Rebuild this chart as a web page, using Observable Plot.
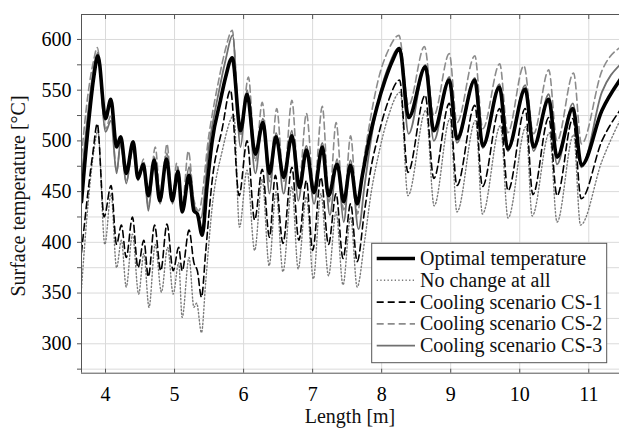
<!DOCTYPE html>
<html><head><meta charset="utf-8">
<script src="https://cdn.jsdelivr.net/npm/d3@7"></script>
<script src="https://cdn.jsdelivr.net/npm/@observablehq/plot@0.6"></script>
<style>body{margin:0;background:#fff} svg{display:block} #chart svg text{font-family:"Liberation Serif" !important;}</style>
</head><body><div id="chart" style="position:relative"></div>
<script>
// ---- data ----
const optX = [3.652,3.75,3.83,3.89,4.00,4.077,4.16,4.22,4.30,4.40,4.47,4.546,4.62,4.705,4.786,4.883,4.966,5.05,5.11,5.21,5.28,5.33,5.40,5.47,5.545,5.665,5.74,5.835,5.955,6.05,6.17,6.28,6.375,6.47,6.58,6.70,6.81,6.91,7.02,7.14,7.23,7.355,7.45,7.548,7.645,7.72,7.82,7.93,8.05,8.15,8.258,8.39,8.634,8.755,8.98,9.09,9.35,9.464,9.706,9.826,10.08,10.20,10.42,10.54,10.77,10.894,11.19,11.45];
const optY = [440,515,563,584,522,541,494,504,468,499,463,477,446,481,441,482,441,470,430,466,431,428,407,455,500,540,563,582,510,546,487,518,468,504,464,505,454,491,449,494,446,477,440,476,438,466,502,533,560,578,591,523,573,510,560,502,560,495,553,492,551,494,541,484,532,476,530,560];

const noX = [3.652,3.75,3.83,3.89,3.99,4.08,4.16,4.23,4.30,4.39,4.48,4.555,4.63,4.72,4.81,4.90,4.98,5.06,5.11,5.21,5.28,5.32,5.39,5.45,5.545,5.69,5.86,5.94,6.05,6.16,6.27,6.37,6.47,6.57,6.70,6.79,6.91,7.01,7.12,7.23,7.34,7.44,7.55,7.645,7.75,7.85,7.95,8.10,8.27,8.38,8.64,8.76,8.99,9.09,9.36,9.46,9.72,9.83,10.09,10.18,10.43,10.54,10.78,10.88,11.19,11.45];
const noY = [355,440,490,510,398,448,375,402,356,408,349,389,336,398,351,395,349,380,326,385,336,340,311,360,435,490,525,415,471,392,462,377,450,371,455,374,445,364,448,367,430,358,425,356,400,450,485,525,548,446,530,436,522,430,520,428,515,424,514,426,508,420,506,417,480,520];

const cs1X = [3.652,3.75,3.82,3.88,3.98,4.08,4.16,4.23,4.30,4.39,4.47,4.555,4.62,4.71,4.80,4.89,4.98,5.06,5.11,5.21,5.28,5.33,5.39,5.45,5.545,5.69,5.81,5.935,6.05,6.16,6.27,6.375,6.46,6.57,6.70,6.80,6.91,7.00,7.12,7.23,7.34,7.44,7.55,7.645,7.75,7.85,7.95,8.10,8.26,8.38,8.63,8.755,8.98,9.09,9.35,9.46,9.71,9.83,10.08,10.19,10.42,10.54,10.77,10.89,11.19,11.45];
const cs1Y = [390,452,490,517,425,456,398,417,385,425,375,402,366,417,372,418,372,395,372,412,380,372,346,390,461,512,550,446,500,422,472,405,466,399,474,402,461,392,464,398,448,384,438,381,430,475,505,540,560,469,545,463,537,456,535,455,532,451,532,447,523,446,522,443,500,530];

const cs2X = [3.652,3.75,3.83,3.88,4.00,4.08,4.16,4.22,4.30,4.40,4.47,4.55,4.62,4.72,4.80,4.89,4.97,5.03,5.11,5.20,5.28,5.35,5.50,5.64,5.74,5.835,5.955,6.07,6.17,6.27,6.375,6.48,6.58,6.70,6.80,6.91,7.02,7.14,7.24,7.34,7.45,7.55,7.65,7.72,7.82,7.95,8.10,8.25,8.39,8.62,8.755,8.98,9.09,9.35,9.464,9.71,9.826,10.06,10.20,10.42,10.54,10.78,10.894,11.19,11.45];
const cs2Y = [485,548,580,592,512,525,470,497,460,492,462,482,435,494,440,497,440,478,435,490,442,431,507,560,591,609,505,563,480,538,460,532,460,540,455,527,452,534,440,518,432,505,428,470,515,560,590,604,535,593,525,586,518,584,512,576,508,574,507,570,500,567,497,569,592];

const cs3X = [3.652,3.75,3.83,3.89,4.00,4.08,4.16,4.22,4.30,4.40,4.47,4.55,4.62,4.71,4.79,4.89,4.97,5.05,5.11,5.21,5.28,5.38,5.50,5.64,5.74,5.84,5.955,6.05,6.17,6.28,6.375,6.47,6.58,6.70,6.79,6.91,7.02,7.14,7.25,7.355,7.45,7.548,7.665,7.75,7.85,7.97,8.12,8.255,8.39,8.634,8.755,8.98,9.09,9.35,9.464,9.706,9.826,10.08,10.20,10.42,10.54,10.77,10.894,11.19,11.45];
const cs3Y = [462,530,572,587,509,520,468,500,458,497,461,478,431,484,438,488,438,474,432,474,438,424,495,548,580,604,494,550,468,522,448,508,448,510,441,495,438,498,427,482,420,481,413,455,503,545,577,592,507,575,500,563,498,562,493,556,490,555,490,546,477,537,474,548,575];

const seriesNames = ["Optimal temperature","No change at all","Cooling scenario CS-1","Cooling scenario CS-2","Cooling scenario CS-3"];
const xTicks = [4,5,6,7,8,9,10,11];
const yTicks = [300,350,400,450,500,550,600];
const yGrid = [275,300,325,350,375,400,425,450,475,500,525,550,575,600];
const xDomain = [3.652, 11.445];
const yDomain = [271, 624.6];

// ---- styles ----
const FONT = "Liberation Serif";
const styles = [
  {stroke: "#000", strokeWidth: 3.6},
  {stroke: "#7a7a7a", strokeWidth: 1.4, strokeDasharray: "1.3,2.3"},
  {stroke: "#000", strokeWidth: 1.6, strokeDasharray: "7,4"},
  {stroke: "#8c8c8c", strokeWidth: 1.6, strokeDasharray: "7,4"},
  {stroke: "#707070", strokeWidth: 1.8}
];
const rows = (xs, ys) => xs.map((x, i) => ({x, y: ys[i]}));
const data = [rows(optX,optY), rows(noX,noY), rows(cs1X,cs1Y), rows(cs2X,cs2Y), rows(cs3X,cs3Y)];
const drawOrder = [1, 2, 3, 4, 0];

const plot = Plot.plot({
  width: 619, height: 428,
  marginLeft: 81, marginRight: 0, marginTop: 14, marginBottom: 55.3,
  x: {domain: xDomain},
  y: {domain: yDomain},
  style: {fontFamily: FONT, fontSize: "20px"},
  marks: [
    Plot.gridX(xTicks, {stroke: "#dadada", strokeOpacity: 1}),
    Plot.gridY(yGrid, {stroke: "#dadada", strokeOpacity: 1}),
    ...drawOrder.map(i => Plot.line(data[i], {x: "x", y: "y", curve: "monotone-x", clip: true, ...styles[i]})),
    Plot.ruleY([yDomain[0], yDomain[1]], {stroke: "#555"}),
    Plot.ruleX([xDomain[0]], {stroke: "#555"}),
    Plot.axisY(yGrid, {tickSize: 4, tickFormat: () => "", label: null, stroke: "#555"}),
    Plot.axisY(yTicks, {tickSize: 0, tickPadding: 10, label: null, fontFamily: FONT}),
    Plot.axisX(xTicks, {anchor: "bottom", tickSize: 0, tickPadding: 14, label: null, fontFamily: FONT}),
    Plot.axisX(xTicks, {anchor: "bottom", tickSize: 4, dy: -4, tickFormat: () => "", label: null, stroke: "#555"}),
    Plot.axisX(xTicks, {anchor: "top", tickSize: 4, dy: 4, tickFormat: () => "", label: null, stroke: "#555"})
  ]
});

const svg = d3.select(plot);
svg.append("text").attr("x", 350).attr("y", 423).attr("text-anchor", "middle")
  .attr("font-family", FONT).attr("font-size", 20).attr("fill", "#111").text("Length [m]");
svg.append("text").attr("transform", "translate(25,196) rotate(-90)").attr("text-anchor", "middle")
  .attr("font-family", FONT).attr("font-size", 20).attr("fill", "#111").text("Surface temperature [°C]");

// legend
const lg = svg.append("g");
lg.append("rect").attr("x", 371.7).attr("y", 243.3).attr("width", 235).attr("height", 119.4)
  .attr("fill", "#fff").attr("stroke", "#555").attr("stroke-width", 1);
seriesNames.forEach((name, i) => {
  const cy = 258.5 + i * 21.8;
  const s = styles[i];
  lg.append("line").attr("x1", 376.7).attr("x2", 415).attr("y1", cy).attr("y2", cy)
    .attr("stroke", s.stroke).attr("stroke-width", s.strokeWidth)
    .attr("stroke-dasharray", s.strokeDasharray || null);
  lg.append("text").attr("x", 420).attr("y", cy + 6.5).attr("text-anchor", "start")
    .attr("font-family", FONT).attr("font-size", 20).attr("fill", "#111").text(name);
});

document.getElementById("chart").appendChild(plot);
</script>
</body></html>
